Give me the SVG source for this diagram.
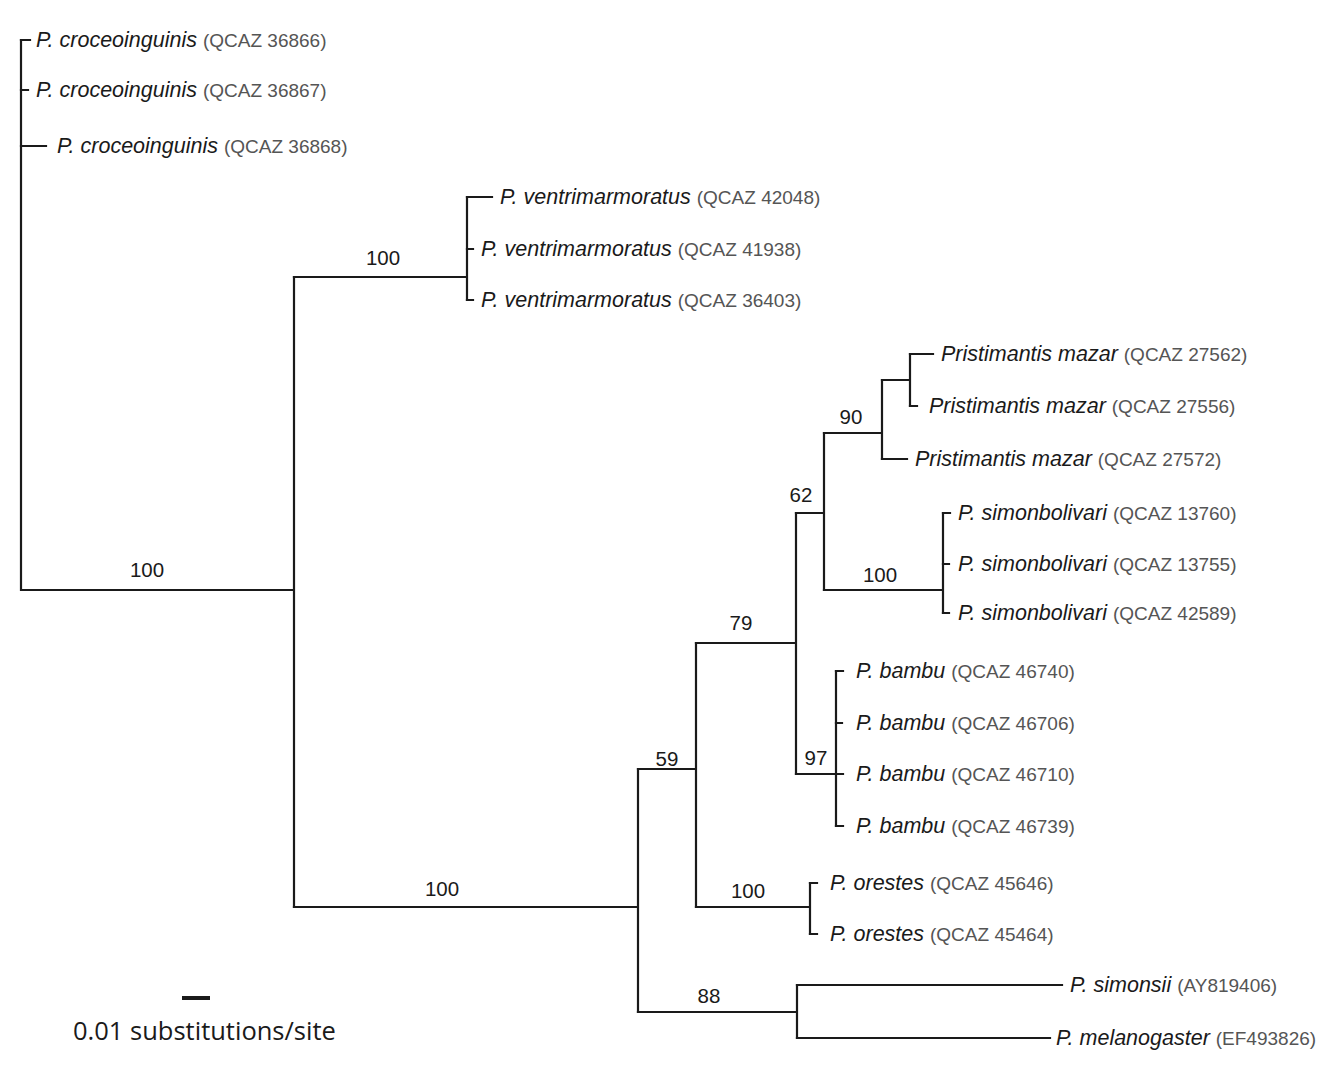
<svg xmlns="http://www.w3.org/2000/svg" width="1339" height="1077" viewBox="0 0 1339 1077">
<style>
.br{fill:none;stroke:#1a1a1a;stroke-width:2.2;stroke-linecap:square}
.sp{font-family:"Liberation Sans",Arial,sans-serif;font-style:italic;font-size:21.5px;fill:#1a1a1a}
.vc{font-style:normal;font-size:19px;fill:#555}
.bs{font-family:"Liberation Sans",Arial,sans-serif;font-size:20.5px;fill:#1a1a1a;text-anchor:middle}
.sc{font-family:"Open Sans","Noto Sans",sans-serif;font-size:25.5px;fill:#1a1a1a}
</style>
<rect width="1339" height="1077" fill="#fff"/>
<g id="connectors">
<path class="br" d="M21,40V590H294M294,277V907"/>
<path class="br" d="M294,277H467M467,197V300"/>
<path class="br" d="M294,907H638M638,769V1012"/>
<path class="br" d="M638,769H696M696,643V907"/>
<path class="br" d="M638,1012H797M797,985V1038"/>
<path class="br" d="M696,643H796M796,513V774"/>
<path class="br" d="M696,907H810M810,883V934"/>
<path class="br" d="M796,513H824M824,433V590"/>
<path class="br" d="M796,774H836M836,671V826"/>
<path class="br" d="M824,433H882M882,380V459"/>
<path class="br" d="M882,380H910M910,354V406"/>
<path class="br" d="M824,590H943M943,513V613"/>
<path class="br" d="M21,40H30M21,90H28M21,146H46"/>
<path class="br" d="M467,197H492M467,249H473M467,300H473"/>
<path class="br" d="M910,354H933M910,406H917M882,459H907"/>
<path class="br" d="M943,513H950M943,564H949M943,613H949"/>
<path class="br" d="M836,671H843M836,723H842M836,774H843M836,826H843"/>
<path class="br" d="M810,883H817M810,934H817"/>
<path class="br" d="M797,985H1062M797,1038H1050"/>
</g>
<g id="supports">
<text class="bs" x="147" y="577">100</text>
<text class="bs" x="383" y="265">100</text>
<text class="bs" x="442" y="896">100</text>
<text class="bs" x="667" y="766">59</text>
<text class="bs" x="709" y="1003">88</text>
<text class="bs" x="741" y="630">79</text>
<text class="bs" x="748" y="898">100</text>
<text class="bs" x="801" y="502">62</text>
<text class="bs" x="816" y="765">97</text>
<text class="bs" x="851" y="424">90</text>
<text class="bs" x="880" y="582">100</text>
</g>
<g id="tip1"><text class="sp" x="36" y="47">P. croceoinguinis <tspan class="vc">(QCAZ 36866)</tspan></text></g>
<g id="tip2"><text class="sp" x="36" y="97">P. croceoinguinis <tspan class="vc">(QCAZ 36867)</tspan></text></g>
<g id="tip3"><text class="sp" x="57" y="153">P. croceoinguinis <tspan class="vc">(QCAZ 36868)</tspan></text></g>
<g id="tip4"><text class="sp" x="500" y="204">P. ventrimarmoratus <tspan class="vc">(QCAZ 42048)</tspan></text></g>
<g id="tip5"><text class="sp" x="481" y="256">P. ventrimarmoratus <tspan class="vc">(QCAZ 41938)</tspan></text></g>
<g id="tip6"><text class="sp" x="481" y="307">P. ventrimarmoratus <tspan class="vc">(QCAZ 36403)</tspan></text></g>
<g id="tip7"><text class="sp" x="941" y="361">Pristimantis mazar <tspan class="vc">(QCAZ 27562)</tspan></text></g>
<g id="tip8"><text class="sp" x="929" y="413">Pristimantis mazar <tspan class="vc">(QCAZ 27556)</tspan></text></g>
<g id="tip9"><text class="sp" x="915" y="466">Pristimantis mazar <tspan class="vc">(QCAZ 27572)</tspan></text></g>
<g id="tip10"><text class="sp" x="958" y="520">P. simonbolivari <tspan class="vc">(QCAZ 13760)</tspan></text></g>
<g id="tip11"><text class="sp" x="958" y="571">P. simonbolivari <tspan class="vc">(QCAZ 13755)</tspan></text></g>
<g id="tip12"><text class="sp" x="958" y="620">P. simonbolivari <tspan class="vc">(QCAZ 42589)</tspan></text></g>
<g id="tip13"><text class="sp" x="856" y="678">P. bambu <tspan class="vc">(QCAZ 46740)</tspan></text></g>
<g id="tip14"><text class="sp" x="856" y="730">P. bambu <tspan class="vc">(QCAZ 46706)</tspan></text></g>
<g id="tip15"><text class="sp" x="856" y="781">P. bambu <tspan class="vc">(QCAZ 46710)</tspan></text></g>
<g id="tip16"><text class="sp" x="856" y="833">P. bambu <tspan class="vc">(QCAZ 46739)</tspan></text></g>
<g id="tip17"><text class="sp" x="830" y="890">P. orestes <tspan class="vc">(QCAZ 45646)</tspan></text></g>
<g id="tip18"><text class="sp" x="830" y="941">P. orestes <tspan class="vc">(QCAZ 45464)</tspan></text></g>
<g id="tip19"><text class="sp" x="1070" y="992">P. simonsii <tspan class="vc">(AY819406)</tspan></text></g>
<g id="tip20"><text class="sp" x="1056" y="1045">P. melanogaster <tspan class="vc">(EF493826)</tspan></text></g>
<g id="scale">
<rect x="182" y="996" width="28" height="4" fill="#1a1a1a"/>
<text class="sc" x="73" y="1040">0.01 substitutions/site</text>
</g>
</svg>
